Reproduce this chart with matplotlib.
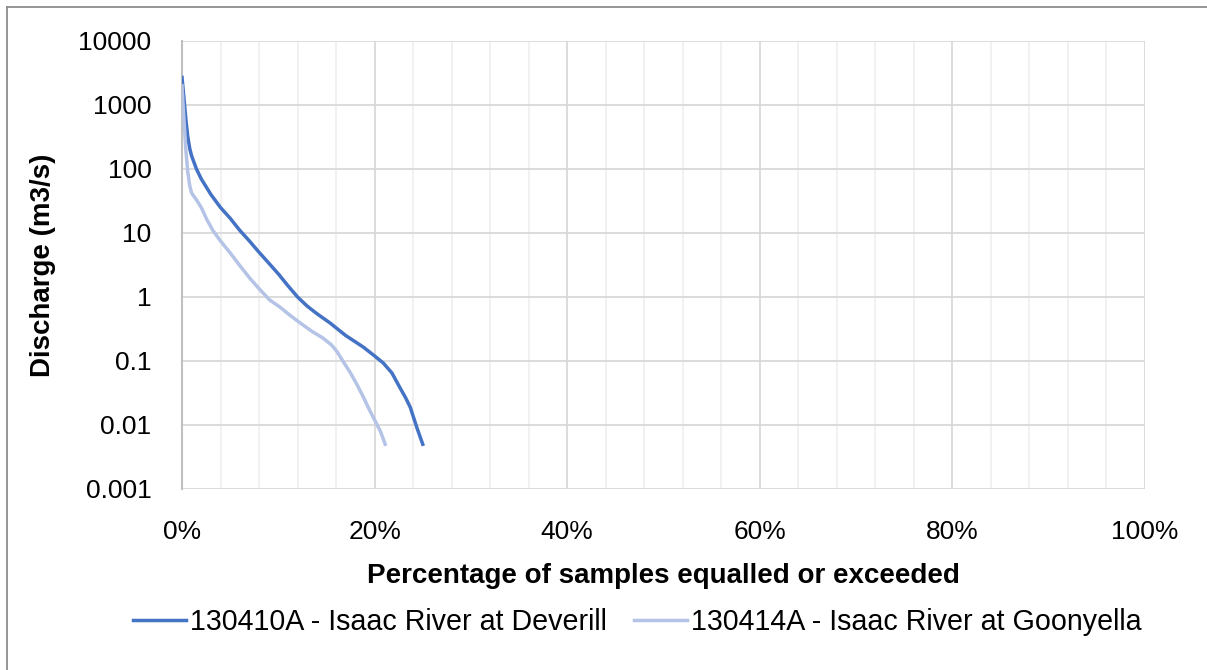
import matplotlib.pyplot as plt
from matplotlib.lines import Line2D
from matplotlib.ticker import FixedLocator, MultipleLocator, PercentFormatter

# flow duration data (% of samples, discharge m3/s)
pct_deverill = [0.0, 0.2, 0.4, 0.6, 0.8, 1.0, 1.5, 2.0, 3.0, 4.0, 5.0, 6.0, 7.0, 8.0, 9.0, 10.0,
                11.0, 12.0, 13.0, 14.0, 15.4, 17.0, 18.8, 20.0, 20.9, 21.8, 22.6, 23.2, 23.7, 24.4, 25.0]
q_deverill = [2700, 1300, 600, 320, 210, 160, 100, 70, 40, 25, 17, 11, 7.5, 5.0, 3.4, 2.3,
              1.5, 1.0, 0.72, 0.55, 0.39, 0.25, 0.166, 0.12, 0.093, 0.065, 0.039, 0.027, 0.019, 0.009, 0.005]

pct_goonyella = [0.0, 0.2, 0.4, 0.6, 0.8, 1.0, 1.5, 2.0, 2.6, 3.2, 4.0, 5.0, 6.0, 7.0, 8.0, 9.1,
                 10.2, 11.2, 12.3, 13.5, 14.6, 15.5, 16.1, 16.7, 17.5, 18.2, 18.8, 19.4, 20.0, 20.6, 21.1]
q_goonyella = [2000, 600, 200, 90, 55, 42, 33, 25, 16, 11, 7.5, 4.9, 3.1, 2.0, 1.35, 0.9,
               0.69, 0.52, 0.39, 0.29, 0.23, 0.18, 0.14, 0.10, 0.065, 0.042, 0.028, 0.018, 0.012, 0.008, 0.005]

ytick_vals = [0.001, 0.01, 0.1, 1, 10, 100, 1000, 10000]
ytick_text = ["0.001", "0.01", "0.1", "1", "10", "100", "1000", "10000"]

dark = "#4472C4"
light = "#B4C3E6"

plt.rcParams['font.family'] = ['Liberation Sans', 'DejaVu Sans']

fig = plt.figure(figsize=(12.07, 6.70), dpi=100)
ax = fig.add_axes([182 / 1207, 1 - 489 / 670, (1145 - 182) / 1207, (489 - 41) / 670])

ax.plot(pct_deverill, q_deverill, color=dark, lw=2.5, label="130410A - Isaac River at Deverill", zorder=3)
ax.plot(pct_goonyella, q_goonyella, color=light, lw=2.5, label="130414A - Isaac River at Goonyella", zorder=3)

ax.set_yscale("log")
ax.set_ylim(0.001, 10000)
ax.set_xlim(0, 100)
ax.yaxis.set_major_locator(FixedLocator(ytick_vals))
ax.yaxis.set_minor_locator(FixedLocator([]))
ax.set_yticklabels(ytick_text)
ax.xaxis.set_major_locator(MultipleLocator(20))
ax.xaxis.set_minor_locator(MultipleLocator(4))
ax.xaxis.set_major_formatter(PercentFormatter(decimals=0))

ax.grid(True, which="major", color="#d9d9d9", lw=1.3)
ax.grid(True, which="minor", axis="x", color="#f0f0f0", lw=1.3)
ax.set_axisbelow(True)
for s in ["top", "right", "bottom"]:
    ax.spines[s].set_visible(False)
ax.spines["left"].set_color("#bfbfbf")
ax.spines["left"].set_linewidth(1.5)
ax.tick_params(which="both", length=0, labelsize=19, colors="#000000")
ax.tick_params(axis="x", pad=22)
ax.tick_params(axis="y", pad=22)

ax.set_xlabel("Percentage of samples equalled or exceeded", fontsize=20, fontweight="bold", labelpad=14)
ax.set_ylabel("Discharge (m3/s)", fontsize=20, fontweight="bold", labelpad=16)

fig.legend(loc="center", bbox_to_anchor=(0.528, 1 - 622 / 670), ncol=2, frameon=False,
           fontsize=20.6, handlelength=1.85, columnspacing=0.95, handletextpad=0.15)

# outer chart border (only top and left edges show in the picture)
fig.lines.append(Line2D([7 / 1207, 1], [1 - 7 / 670, 1 - 7 / 670], transform=fig.transFigure,
                        color="#8c8c8c", lw=1.3))
fig.lines.append(Line2D([7 / 1207, 7 / 1207], [0, 1 - 7 / 670], transform=fig.transFigure,
                        color="#8c8c8c", lw=1.3))

fig.savefig("out.png", dpi=100)
